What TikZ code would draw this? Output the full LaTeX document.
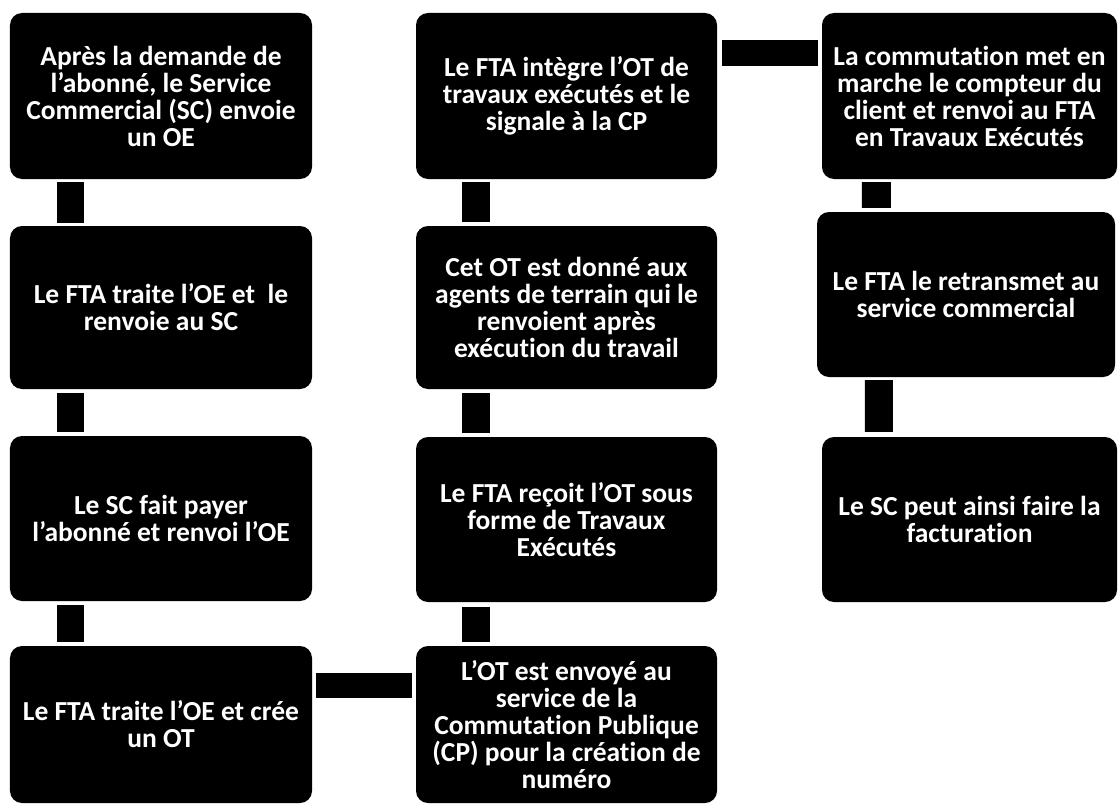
\documentclass[tikz,border=0pt]{standalone}
\usepackage{fontspec}
\setmainfont{Carlito}[Ligatures=NoCommon]
\usetikzlibrary{calc}
\begin{document}
\begin{tikzpicture}[x=1bp,y=-1bp,
  box/.style={fill=black, rounded corners=12bp, text=white, align=center, inner sep=0pt,
    font=\bfseries\fontsize{27.5bp}{27bp}\selectfont},
  bar/.style={draw=black, line width=27bp}]
\useasboundingbox[fill=white] (0,0) rectangle (1118,805);
% column 1
\node[box, minimum width=302bp, minimum height=166bp] (a1) at (161,96)
  {Après la demande de\\l’abonné, le Service\\Commercial (SC) envoie\\un OE};
\node[box, minimum width=302bp, minimum height=163bp] (a2) at (161,307.5)
  {Le FTA traite l’OE et\ \ le\\renvoie au SC};
\node[box, minimum width=302bp, minimum height=165bp] (a3) at (161,518.5)
  {Le SC fait payer\\l’abonné et renvoi l’OE};
\node[box, minimum width=302bp, minimum height=157bp] (a4) at (161,724.5)
  {Le FTA traite l’OE et crée\\un OT};
% column 2
\node[box, minimum width=301bp, minimum height=166bp] (b1) at (566.5,96)
  {Le FTA intègre l’OT de\\travaux exécutés et le\\signale à la CP};
\node[box, minimum width=301bp, minimum height=163bp] (b2) at (566.5,307.5)
  {Cet OT est donné aux\\agents de terrain qui le\\renvoient après\\exécution du travail};
\node[box, minimum width=301bp, minimum height=165bp] (b3) at (566.5,519.5)
  {Le FTA reçoit l’OT sous\\forme de Travaux\\Exécutés};
\node[box, minimum width=301bp, minimum height=157bp] (b4) at (566.5,724.5)
  {L’OT est envoyé au\\service de la\\Commutation Publique\\(CP) pour la création de\\numéro};
% column 3
\node[box, minimum width=295bp, minimum height=166bp] (c1) at (969.5,96)
  {La commutation met en\\marche le compteur du\\client et renvoi au FTA\\en Travaux Exécutés};
\node[box, minimum width=298bp, minimum height=165bp] (c2) at (966,294.5)
  {Le FTA le retransmet au\\service commercial};
\node[box, minimum width=295bp, minimum height=165bp] (c3) at (969.5,519.5)
  {Le SC peut ainsi faire la\\facturation};
% connectors column 1
\draw[bar] ($(a1.south west)+(60.5,3)$) -- ($(a2.north west)+(60.5,-3)$);
\draw[bar] ($(a2.south west)+(60.5,4)$) -- ($(a3.north west)+(60.5,-4)$);
\draw[bar] ($(a3.south west)+(60.5,4)$) -- ($(a4.north west)+(60.5,-4)$);
% connector bottom row
\draw[bar, line width=25bp] ($(a4.north east)+(4,39.5)$) -- ($(b4.north west)+(-4,39.5)$);
% connectors column 2
\draw[bar, line width=28bp] ($(b3.south west)+(60,5)$) -- ($(b4.north west)+(60,-4)$);
\draw[bar, line width=28bp] ($(b2.south west)+(60,4)$) -- ($(b3.north west)+(60,-4)$);
\draw[bar, line width=28bp] ($(b1.south west)+(60,3)$) -- ($(b2.north west)+(60,-4)$);
% connector top row
\draw[bar, line width=26bp] ($(b1.north east)+(5,40)$) -- ($(c1.north west)+(-4,40)$);
% connectors column 3
\draw[bar, line width=29bp] ($(c1.south west)+(54.5,3)$) -- ($(c2.north west)+(59.5,-4)$);
\draw[bar, line width=28bp] ($(c2.south west)+(62,3)$) -- ($(c3.north west)+(57,-5)$);
\end{tikzpicture}
\end{document}
